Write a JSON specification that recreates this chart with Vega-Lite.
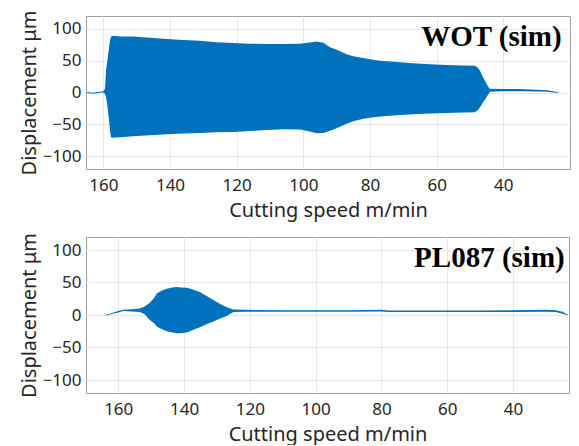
{
  "$schema": "https://vega.github.io/schema/vega-lite/v6.json",
  "background": "white",
  "padding": {"left": 18, "top": 6, "right": 9, "bottom": 0},
  "config": {
    "view": {"stroke": "#a0a0a0", "strokeWidth": 1},
    "axis": {
      "labelFont": "Noto Sans", "titleFont": "Noto Sans",
      "labelFontSize": 17, "titleFontSize": 20,
      "labelColor": "#262626", "titleColor": "#262626",
      "titleFontWeight": "normal", "gridColor": "#e6e6e6",
      "domain": false, "ticks": false, "labelOverlap": false
    }
  },
  "datasets": {
    "wot": [
      {"s": 165.2, "lo": -0.5, "hi": 0.5},
      {"s": 164, "lo": -1, "hi": 0.5},
      {"s": 163, "lo": -2, "hi": -0.5},
      {"s": 162, "lo": -1, "hi": 0.5},
      {"s": 161, "lo": -0.5, "hi": 1},
      {"s": 160, "lo": 0, "hi": 2},
      {"s": 159.5, "lo": -2, "hi": 6},
      {"s": 159.2, "lo": -7, "hi": 34},
      {"s": 158.8, "lo": -20, "hi": 50},
      {"s": 158.4, "lo": -38, "hi": 66},
      {"s": 158, "lo": -60, "hi": 82},
      {"s": 157.7, "lo": -70, "hi": 87.5},
      {"s": 157, "lo": -71, "hi": 89},
      {"s": 155, "lo": -70, "hi": 88},
      {"s": 151, "lo": -68.5, "hi": 88},
      {"s": 146, "lo": -67, "hi": 86},
      {"s": 141, "lo": -65.5, "hi": 84},
      {"s": 136, "lo": -64.5, "hi": 82.5},
      {"s": 131, "lo": -63.5, "hi": 81},
      {"s": 126, "lo": -62.5, "hi": 79},
      {"s": 121, "lo": -62, "hi": 77.5},
      {"s": 116, "lo": -60.5, "hi": 76.5},
      {"s": 111, "lo": -59, "hi": 76},
      {"s": 106, "lo": -57.5, "hi": 76},
      {"s": 101, "lo": -58, "hi": 76.5},
      {"s": 98, "lo": -61, "hi": 78.5},
      {"s": 96, "lo": -64, "hi": 80},
      {"s": 94, "lo": -63.5, "hi": 78},
      {"s": 92, "lo": -60, "hi": 71},
      {"s": 90, "lo": -56, "hi": 67},
      {"s": 87, "lo": -49, "hi": 60},
      {"s": 85, "lo": -45, "hi": 57},
      {"s": 82, "lo": -41, "hi": 54},
      {"s": 80, "lo": -39.5, "hi": 52},
      {"s": 77, "lo": -37.5, "hi": 50},
      {"s": 72, "lo": -35.5, "hi": 48},
      {"s": 67, "lo": -34, "hi": 46},
      {"s": 62, "lo": -33, "hi": 44.5},
      {"s": 57, "lo": -32, "hi": 43},
      {"s": 52, "lo": -31.5, "hi": 42.5},
      {"s": 48.5, "lo": -31, "hi": 42},
      {"s": 47.5, "lo": -27, "hi": 38},
      {"s": 47, "lo": -23, "hi": 34},
      {"s": 46, "lo": -15, "hi": 23},
      {"s": 45, "lo": -7, "hi": 13.5},
      {"s": 44.3, "lo": -1, "hi": 7},
      {"s": 44, "lo": 1, "hi": 6},
      {"s": 40, "lo": 2, "hi": 5.5},
      {"s": 35, "lo": 2, "hi": 5.5},
      {"s": 30, "lo": 1.5, "hi": 4.5},
      {"s": 27, "lo": 1, "hi": 3.7},
      {"s": 25, "lo": 0, "hi": 2},
      {"s": 23.4, "lo": -0.5, "hi": 0.5}
    ],
    "pl": [
      {"s": 164, "lo": -0.5, "hi": 0.5},
      {"s": 163, "lo": 0, "hi": 1},
      {"s": 161.5, "lo": 2.5, "hi": 4},
      {"s": 160, "lo": 4, "hi": 6},
      {"s": 158.5, "lo": 6, "hi": 8},
      {"s": 156, "lo": 5.5, "hi": 9},
      {"s": 153.4, "lo": 4.5, "hi": 10},
      {"s": 152, "lo": 1, "hi": 13},
      {"s": 150.4, "lo": -7.6, "hi": 19},
      {"s": 149, "lo": -13, "hi": 27},
      {"s": 148.3, "lo": -17.7, "hi": 33},
      {"s": 147, "lo": -21, "hi": 37},
      {"s": 145.3, "lo": -25, "hi": 40.5},
      {"s": 143.5, "lo": -27, "hi": 42.5},
      {"s": 142.3, "lo": -28, "hi": 43},
      {"s": 141, "lo": -28, "hi": 42.5},
      {"s": 139.2, "lo": -27, "hi": 42},
      {"s": 137.5, "lo": -23.5, "hi": 39.5},
      {"s": 135.2, "lo": -19, "hi": 35.5},
      {"s": 133, "lo": -14, "hi": 29},
      {"s": 131.1, "lo": -10, "hi": 23},
      {"s": 129, "lo": -5.5, "hi": 17},
      {"s": 127, "lo": -1.5, "hi": 12},
      {"s": 125, "lo": 4.5, "hi": 8.5},
      {"s": 122, "lo": 5, "hi": 8},
      {"s": 110, "lo": 5, "hi": 7.5},
      {"s": 100, "lo": 5, "hi": 7.5},
      {"s": 90, "lo": 5, "hi": 7.5},
      {"s": 80, "lo": 5.5, "hi": 8},
      {"s": 78, "lo": 4.5, "hi": 7},
      {"s": 60, "lo": 4.5, "hi": 7},
      {"s": 50, "lo": 4.5, "hi": 7},
      {"s": 40, "lo": 4.5, "hi": 7.5},
      {"s": 30, "lo": 5, "hi": 8},
      {"s": 27, "lo": 4.5, "hi": 7.5},
      {"s": 25, "lo": 2, "hi": 5},
      {"s": 23.3, "lo": -0.5, "hi": 0.5}
    ],
    "wotlab": [{"s": 22.5, "y": 73, "label": "WOT (sim)"}],
    "pllab": [{"s": 24.3, "y": 73.5, "label": "PL087 (sim)"}]
  },
  "spacing": 8,
  "vconcat": [
    {
      "width": 484, "height": 153,
      "layer": [
        {
          "data": {"name": "wot"},
          "mark": {"type": "area", "color": "#0072BD"},
          "encoding": {
            "x": {"field": "s", "type": "quantitative",
              "scale": {"domain": [20, 165.2], "reverse": true, "nice": false, "zero": false},
              "axis": {"values": [40, 60, 80, 100, 120, 140, 160], "tickCount": 20, "title": "Cutting speed m/min", "labelPadding": 8, "titlePadding": 7}},
            "y": {"field": "hi", "type": "quantitative",
              "scale": {"domain": [-120, 120], "nice": false},
              "axis": {"values": [-100, -50, 0, 50, 100], "tickCount": 10, "title": "Displacement  μm", "labelPadding": 5, "titlePadding": 3}},
            "y2": {"field": "lo"}
          }
        },
        {
          "data": {"name": "wotlab"},
          "mark": {"type": "text", "font": "Liberation Serif", "fontWeight": "bold", "fontSize": 29, "align": "right", "baseline": "alphabetic", "color": "black"},
          "encoding": {
            "x": {"field": "s", "type": "quantitative"},
            "y": {"field": "y", "type": "quantitative"},
            "text": {"field": "label"}
          }
        }
      ]
    },
    {
      "width": 483, "height": 156,
      "layer": [
        {
          "data": {"name": "pl"},
          "mark": {"type": "area", "color": "#0072BD"},
          "encoding": {
            "x": {"field": "s", "type": "quantitative",
              "scale": {"domain": [23, 169.8], "reverse": true, "nice": false, "zero": false},
              "axis": {"values": [40, 60, 80, 100, 120, 140, 160], "tickCount": 20, "title": "Cutting speed m/min", "labelPadding": 8, "titlePadding": 7}},
            "y": {"field": "hi", "type": "quantitative",
              "scale": {"domain": [-120, 120], "nice": false},
              "axis": {"values": [-100, -50, 0, 50, 100], "tickCount": 10, "title": "Displacement  μm", "labelPadding": 5, "titlePadding": 3}},
            "y2": {"field": "lo"}
          }
        },
        {
          "data": {"name": "pllab"},
          "mark": {"type": "text", "font": "Liberation Serif", "fontWeight": "bold", "fontSize": 29, "align": "right", "baseline": "alphabetic", "color": "black"},
          "encoding": {
            "x": {"field": "s", "type": "quantitative"},
            "y": {"field": "y", "type": "quantitative"},
            "text": {"field": "label"}
          }
        }
      ]
    }
  ]
}
